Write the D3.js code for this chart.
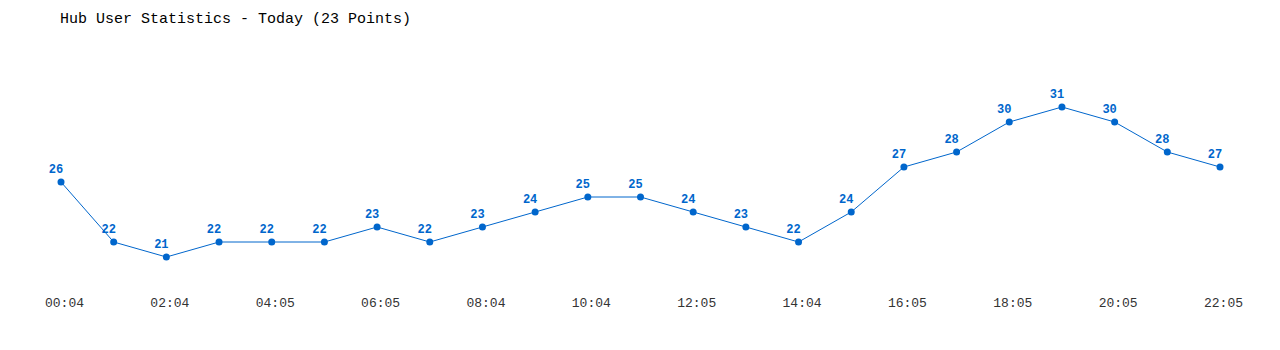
<!DOCTYPE html>
<html>
<head>
    <meta charset="utf-8">
    <title>Hub User Statistics</title>
    <script src="https://d3js.org/d3.v7.min.js"></script>
    <style>
        body { margin: 0; background: #fff; }
        text { font-family: "Liberation Mono", "DejaVu Sans Mono", monospace; }
    </style>
</head>
<body>
    <script type="text/javascript">
        // one sample every hour or so, only every second time is labelled
        let times = ["00:04", "01:04", "02:04", "03:05", "04:05", "05:05", "06:05", "07:04",
            "08:04", "09:04", "10:04", "11:05", "12:05", "13:04", "14:04", "15:05",
            "16:05", "17:05", "18:05", "19:05", "20:05", "21:05", "22:05"];
        let users = [26, 22, 21, 22, 22, 22, 23, 22, 23, 24, 25, 25, 24, 23, 22, 24,
            27, 28, 30, 31, 30, 28, 27];
        let tickTimes = times.filter((d, i) => i % 2 === 0);

        let width = 1280, height = 350;
        let blue = "#0066cc";

        let svg = d3.select("body").append("svg")
            .attr("width", width)
            .attr("height", height);

        svg.append("text")
            .attr("x", 60)
            .attr("y", 23)
            .attr("font-size", 15)
            .attr("fill", "#000")
            .text("Hub User Statistics - Today (23 Points)");

        let x = d3.scalePoint().domain(times).range([61, 1220]);
        let y = d3.scaleLinear().domain([20, 32]).range([272, 92]);

        // x axis, only labels (drawn a little right of the points, like the original)
        let xAxis = d3.axisBottom(x).tickValues(tickTimes).tickSize(0).tickPadding(0);
        let gx = svg.append("g")
            .attr("transform", "translate(3,298)")
            .call(xAxis);
        gx.select(".domain").remove();
        gx.selectAll("text")
            .attr("font-size", 13)
            .attr("fill", "#333")
            .attr("font-family", "Liberation Mono, DejaVu Sans Mono, monospace");

        let line = d3.line()
            .x((d, i) => x(times[i]))
            .y(d => y(d));

        svg.append("path")
            .attr("d", line(users))
            .attr("fill", "none")
            .attr("stroke", blue)
            .attr("stroke-width", 1);

        svg.selectAll("circle")
            .data(users)
            .join("circle")
            .attr("cx", (d, i) => x(times[i]))
            .attr("cy", d => y(d))
            .attr("r", 3.5)
            .attr("fill", blue);

        svg.selectAll(".val")
            .data(users)
            .join("text")
            .attr("class", "val")
            .attr("x", (d, i) => x(times[i]) - 5)
            .attr("y", d => y(d) - 9)
            .attr("text-anchor", "middle")
            .attr("font-size", 12)
            .attr("font-weight", "bold")
            .attr("fill", blue)
            .text(d => d);
    </script>
</body>
</html>
